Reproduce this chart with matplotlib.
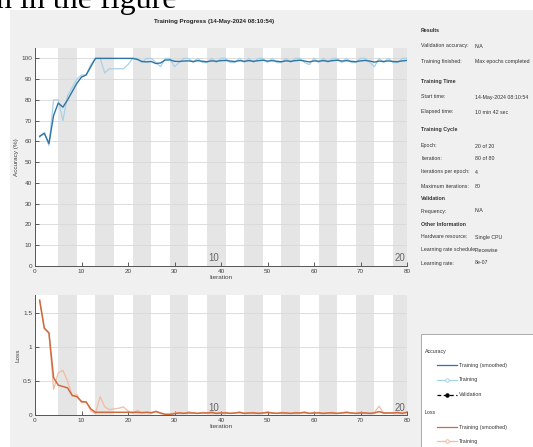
import matplotlib
matplotlib.use("Agg")
import matplotlib.pyplot as plt
from matplotlib.patches import Rectangle
from matplotlib.lines import Line2D

plt.rcParams['font.family'] = ['Liberation Sans', 'DejaVu Sans']

# ---------------- data ----------------
iterations = list(range(1, 81))

acc_train = [62, 64, 58, 80, 80, 70, 82, 86, 90, 92, 92, 97, 100, 100, 93, 95,
             95, 95, 95, 97, 100, 100, 98, 100, 100, 98, 96, 100, 100, 96,
             98, 100, 100, 98, 100, 98, 98, 100, 98, 100, 100, 98, 98, 100, 98,
             100, 98, 100, 100, 98, 100, 98, 98, 100, 98, 100, 100, 98, 97, 100,
             98, 100, 98, 100, 100, 98, 100, 98, 98, 100, 100, 98, 96, 100, 98,
             100, 98, 98, 100, 100]
acc_smooth = [62.5, 64, 59, 72.5, 78.5, 76.5, 80, 84, 88, 91, 92, 96, 100, 100, 100, 100,
              100, 100, 100, 100, 100, 99.5, 98.5, 98.3, 98.5, 97.5, 97.8, 99.2, 99.3, 98.6,
              98.5, 98.7, 98.8, 98.5, 98.9, 98.6, 98.4, 98.8, 98.6, 98.9, 99.0, 98.7, 98.5, 98.9, 98.6,
              98.9, 98.6, 98.9, 99.1, 98.7, 98.9, 98.6, 98.4, 98.8, 98.6, 98.9, 99.1, 98.7, 98.3, 98.8,
              98.6, 98.9, 98.6, 98.9, 99.1, 98.7, 98.9, 98.6, 98.4, 98.8, 99.0, 98.7, 98.2, 98.7, 98.5,
              98.8, 98.5, 98.4, 98.8, 99.0]

loss_train = [1.70, 1.28, 1.21, 0.38, 0.62, 0.66, 0.50, 0.28, 0.30, 0.18, 0.20, 0.06, 0.02, 0.27, 0.12, 0.08,
              0.09, 0.10, 0.12, 0.06, 0.02, 0.07, 0.03, 0.04, 0.02, 0.06, 0.02, 0.01, 0.01, 0.03,
              0.04, 0.02, 0.05, 0.03, 0.02, 0.04, 0.03, 0.05, 0.02, 0.03, 0.04, 0.02, 0.03, 0.05, 0.02,
              0.03, 0.04, 0.02, 0.03, 0.05, 0.03, 0.02, 0.04, 0.03, 0.02, 0.04, 0.03, 0.05, 0.02, 0.03,
              0.04, 0.02, 0.03, 0.04, 0.02, 0.03, 0.05, 0.03, 0.02, 0.04, 0.03, 0.02, 0.04, 0.13, 0.02,
              0.03, 0.03, 0.04, 0.02, 0.05]
loss_smooth = [1.69, 1.28, 1.21, 0.55, 0.44, 0.42, 0.40, 0.29, 0.27, 0.20, 0.19, 0.09, 0.04, 0.04, 0.04, 0.04,
               0.04, 0.04, 0.04, 0.04, 0.04, 0.04, 0.035, 0.04, 0.035, 0.05, 0.03, 0.01, 0.01, 0.02,
               0.03, 0.025, 0.03, 0.03, 0.025, 0.03, 0.03, 0.035, 0.025, 0.03, 0.03, 0.025, 0.03, 0.035, 0.025,
               0.03, 0.03, 0.025, 0.03, 0.035, 0.03, 0.025, 0.03, 0.03, 0.025, 0.03, 0.03, 0.035, 0.025, 0.03,
               0.03, 0.025, 0.03, 0.03, 0.025, 0.03, 0.035, 0.03, 0.025, 0.03, 0.03, 0.025, 0.03, 0.05, 0.03,
               0.03, 0.03, 0.035, 0.025, 0.04]

iters_per_epoch = 4
n_epochs = 20
epoch_labels = [10, 20]

info_rows = [
    ("Results", None, True),
    ("Validation accuracy:", "N/A", False),
    ("Training finished:", "Max epochs completed", False),
    ("Training Time", None, True),
    ("Start time:", "14-May-2024 08:10:54", False),
    ("Elapsed time:", "10 min 42 sec", False),
    ("Training Cycle", None, True),
    ("Epoch:", "20 of 20", False),
    ("Iteration:", "80 of 80", False),
    ("Iterations per epoch:", "4", False),
    ("Maximum iterations:", "80", False),
    ("Validation", None, True),
    ("Frequency:", "N/A", False),
    ("Other Information", None, True),
    ("Hardware resource:", "Single CPU", False),
    ("Learning rate schedule:", "Piecewise", False),
    ("Learning rate:", "8e-07", False),
]
info_y = [31, 46, 62, 81, 97, 112, 129, 146, 159, 172, 186, 198, 211, 224, 237, 250, 263]

# ---------------- colors ----------------
C_ACC_S = '#2f74a3'
C_ACC_T = '#a6d2ea'
C_LOSS_S = '#cf6a3f'
C_LOSS_T = '#f2bba3'
C_STRIPE = '#e5e5e5'
C_PANEL = '#f0f0f0'
TXT = '#333333'
FS = 3.8

W, H = 533, 447
fig = plt.figure(figsize=(W / 100, H / 100), dpi=100)
fig.patch.set_facecolor('white')

def fx(px):
    return px / W

def fy(py):
    return 1 - py / H

# grey panel
fig.patches.append(Rectangle((fx(10), 0), 1 - fx(10), fy(10), transform=fig.transFigure,
                             facecolor=C_PANEL, edgecolor='none', zorder=-10))
# cut-off document text at top
fig.text(fx(-4), fy(8), "n in the figure", family='Liberation Serif', fontsize=23,
         color='black', ha='left', va='baseline')

def style_axes(ax, ylim, yticks, yticklabels, ylabel):
    ax.set_facecolor('white')
    ax.set_xlim(0, 80)
    ax.set_ylim(*ylim)
    for e in range(2, n_epochs + 1, 2):
        x0 = (e - 1) * iters_per_epoch + 1
        ax.axvspan(x0, x0 + iters_per_epoch, color=C_STRIPE, lw=0, zorder=0)
    for yv in yticks:
        ax.axhline(yv, color='#d8d8d8', lw=0.6, zorder=0.5)
    ax.set_xticks(range(0, 81, 10))
    ax.set_yticks(yticks)
    ax.set_yticklabels(yticklabels)
    ax.tick_params(direction='in', length=3, width=0.6, labelsize=4.6, colors='#444444', pad=2)
    for s in ['top', 'right']:
        ax.spines[s].set_visible(False)
    for s in ['left', 'bottom']:
        ax.spines[s].set_color('#555555')
        ax.spines[s].set_linewidth(0.7)
    ax.set_xlabel('Iteration', fontsize=4.6, color='#444444', labelpad=1)
    ax.set_ylabel(ylabel, fontsize=4.6, color='#444444', labelpad=2)
    for ep in epoch_labels:
        x0 = (ep - 1) * iters_per_epoch + 1
        ax.text(x0 + 0.3, ylim[1] * 0.015, str(ep), fontsize=7, color='#666666',
                ha='left', va='bottom', zorder=3)

ax1 = fig.add_axes([fx(35), fy(266), fx(407) - fx(35), fy(48) - fy(266)])
style_axes(ax1, (0, 105), list(range(0, 101, 10)), [str(v) for v in range(0, 101, 10)], 'Accuracy (%)')
ax1.plot(iterations, acc_train, color=C_ACC_T, lw=0.9, zorder=2)
ax1.plot(iterations, acc_smooth, color=C_ACC_S, lw=1.0, zorder=2.5)

ax2 = fig.add_axes([fx(35), fy(415), fx(407) - fx(35), fy(295) - fy(415)])
style_axes(ax2, (0, 1.77), [0, 0.5, 1, 1.5], ['0', '0.5', '1', '1.5'], 'Loss')
ax2.plot(iterations, loss_train, color=C_LOSS_T, lw=0.9, zorder=2)
ax2.plot(iterations, loss_smooth, color=C_LOSS_S, lw=1.1, zorder=2.5)

fig.text(fx(214), fy(22), 'Training Progress (14-May-2024 08:10:54)', fontsize=4.4,
         fontweight='bold', color='#222222', ha='center', va='center')

# info panel
for (lab, val, bold), yy in zip(info_rows, info_y):
    fig.text(fx(421), fy(yy), lab, fontsize=FS, color=TXT, ha='left', va='center',
             fontweight='bold' if bold else 'normal')
    if val is not None:
        fig.text(fx(475), fy(yy), val, fontsize=FS, color=TXT, ha='left', va='center')

# legend box
fig.patches.append(Rectangle((fx(421), fy(460)), fx(140), fy(334) - fy(460), transform=fig.transFigure,
                             facecolor='white', edgecolor='#aaaaaa', lw=0.7, zorder=5))
fig.text(fx(425), fy(351), 'Accuracy', fontsize=FS, color=TXT, ha='left', va='center', zorder=6)
fig.text(fx(425), fy(412), 'Loss', fontsize=FS, color=TXT, ha='left', va='center', zorder=6)

def leg_line(y, color, label, marker=None, ls='-', mfc=None):
    ln = Line2D([fx(437), fx(457)], [fy(y), fy(y)], transform=fig.transFigure, color=color,
                lw=0.9, ls=ls, zorder=6)
    fig.lines.append(ln)
    if marker:
        mk = Line2D([fx(447)], [fy(y)], transform=fig.transFigure, color=color, marker=marker,
                    markersize=2.5, markerfacecolor=mfc or 'white', markeredgewidth=0.7, zorder=7)
        fig.lines.append(mk)
    fig.text(fx(459), fy(y), label, fontsize=FS, color=TXT, ha='left', va='center', zorder=6)

leg_line(365, C_ACC_S, 'Training (smoothed)')
leg_line(380, C_ACC_T, 'Training', marker='o')
leg_line(395, 'black', 'Validation', marker='o', ls=(0, (3, 2)), mfc='black')
leg_line(427, C_LOSS_S, 'Training (smoothed)')
leg_line(441, C_LOSS_T, 'Training', marker='o')

fig.savefig('out.png', dpi=100)
